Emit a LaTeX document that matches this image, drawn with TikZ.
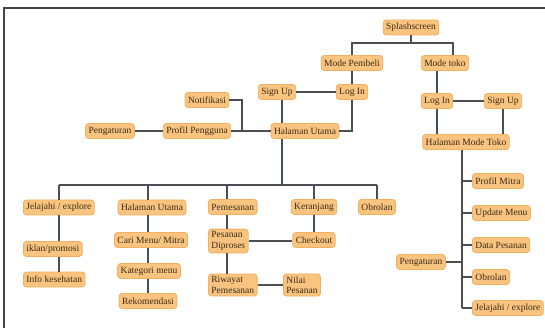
\documentclass[tikz,border=0pt]{standalone}
\usepackage{fontspec}
\setmainfont{Liberation Serif}
\definecolor{boxfill}{HTML}{F8C47F}
\definecolor{boxedge}{HTML}{F2B060}
\definecolor{linec}{HTML}{4A4E55}
\definecolor{txt}{HTML}{3A2A18}
\definecolor{framec}{HTML}{444444}
\begin{document}
\begin{tikzpicture}[x=1pt,y=-1pt,
 box/.style={draw=boxedge, fill=boxfill, rounded corners=3pt, line width=0.8pt, text=txt,
   font=\fontsize{9.5}{10.5}\selectfont, inner xsep=3pt, inner ysep=2pt, minimum height=15pt},
 two/.style={box, align=left, inner ysep=2.5pt},
 conn/.style={draw=linec, line width=1.2pt}]
\useasboundingbox (0,0) rectangle (545,328);
\draw[line width=1.5pt, draw=framec] (4,332) -- (4,8) -- (549,8);
% nodes
\node[box] (splash) at (411,27.5) {Splashscreen};
\node[box] (mpemb) at (352,63) {Mode Pembeli};
\node[box] (mtoko) at (445,63) {Mode toko};
\node[box] (signupL) at (277,92) {Sign Up};
\node[box] (loginL) at (352,92) {Log In};
\node[box] (notif) at (207,100) {Notifikasi};
\node[box] (pengL) at (110,131) {Pengaturan};
\node[box] (profil) at (197,131) {Profil Pengguna};
\node[box] (hu) at (305,131) {Halaman Utama};
\node[box,anchor=west] (jel) at (23,207.5) {Jelajahi / explore};
\node[box,anchor=west] (iklan) at (23,249) {iklan/promosi};
\node[box,anchor=west] (info) at (23,279.5) {Info kesehatan};
\node[box] (hu2) at (152,207.5) {Halaman Utama};
\node[box] (cari) at (151,240) {Cari Menu/ Mitra};
\node[box] (kat) at (149,271) {Kategori menu};
\node[box] (rek) at (148,301) {Rekomendasi};
\node[box,anchor=west] (pem) at (208,207) {Pemesanan};
\node[two,anchor=west] (dipro) at (208,241) {Pesanan\\Diproses};
\node[two,anchor=west] (riw) at (208,285) {Riwayat\\Pemesanan};
\node[two,anchor=west] (nilai) at (283,285) {Nilai\\Pesanan};
\node[box] (ker) at (314,207) {Keranjang};
\node[box] (chk) at (314,240) {Checkout};
\node[box] (obr) at (377,207) {Obrolan};
\node[box] (loginR) at (437,101) {Log In};
\node[box] (signupR) at (503,101) {Sign Up};
\node[box] (hmt) at (466,142) {Halaman Mode Toko};
\node[box,anchor=west] (pmitra) at (472,181) {Profil Mitra};
\node[box,anchor=west] (upd) at (472,213) {Update Menu};
\node[box,anchor=west] (data) at (472,245) {Data Pesanan};
\node[box,anchor=west] (obrR) at (472,277) {Obrolan};
\node[box,anchor=west] (jelR) at (472,308) {Jelajahi / explore};
\node[box] (pengR) at (421,262) {Pengaturan};
% junction coordinates
\coordinate (jtop) at (411,43);
\coordinate (jbus) at (282,185);
\coordinate (jn) at (242,131);
\coordinate (sJ) at (59,185);
\coordinate (sH) at (148,185);
\coordinate (sP) at (227,185);
\coordinate (sK) at (314,185);
\coordinate (sO) at (377,185);
\coordinate (sM) at (462,308);
% connectors
\draw[conn] (splash.south) -- (jtop);
\draw[conn] (mpemb.north) |- (jtop) -| ([xshift=8pt]mtoko.north);
\draw[conn] (mpemb.south) -- (loginL.north);
\draw[conn] (signupL.east) -- (loginL.west);
\draw[conn] (loginR.north |- mtoko.south) -- (loginR.north);
\draw[conn] (loginR.east) -- (signupR.west);
\draw[conn] (loginR.south) -- (loginR.south |- hmt.north);
\draw[conn] (signupR.south) -- (signupR.south |- hmt.north);
\draw[conn] (jbus |- signupL.south) -- (jbus |- hu.north);
\draw[conn] (loginL.south) |- (hu.east);
\draw[conn] (notif.east) -| (jn);
\draw[conn] (profil.east) -- (hu.west);
\draw[conn] (pengL.east) -- (profil.west);
\draw[conn] (jbus |- hu.south) -- (jbus);
\draw[conn] (sJ) -- (sO);
\draw[conn] (sJ) -- (sJ |- jel.north);
\draw[conn] (sJ |- jel.south) -- (sJ |- iklan.north);
\draw[conn] (sJ |- iklan.south) -- (sJ |- info.north);
\draw[conn] (sH) -- (sH |- hu2.north);
\draw[conn] (sH |- hu2.south) -- (sH |- cari.north);
\draw[conn] (sH |- cari.south) -- (sH |- kat.north);
\draw[conn] (sH |- kat.south) -- (sH |- rek.north);
\draw[conn] (sP) -- (sP |- pem.north);
\draw[conn] (sP |- pem.south) -- (sP |- dipro.north);
\draw[conn] (sP |- dipro.south) -- (sP |- riw.north);
\draw[conn] (sK) -- (ker.north);
\draw[conn] (ker.south) -- (chk.north);
\draw[conn] (dipro.east) -- (dipro.east -| chk.west);
\draw[conn] (sO) -- (obr.north);
\draw[conn] (riw.east) -- (nilai.west);
\draw[conn] (sM |- hmt.south) -- (sM);
\draw[conn] (sM |- pmitra.west) -- (pmitra.west);
\draw[conn] (sM |- upd.west) -- (upd.west);
\draw[conn] (sM |- data.west) -- (data.west);
\draw[conn] (sM |- obrR.west) -- (obrR.west);
\draw[conn] (sM |- jelR.west) -- (jelR.west);
\draw[conn] (pengR.east) -- (sM |- pengR.east);
\end{tikzpicture}
\end{document}
